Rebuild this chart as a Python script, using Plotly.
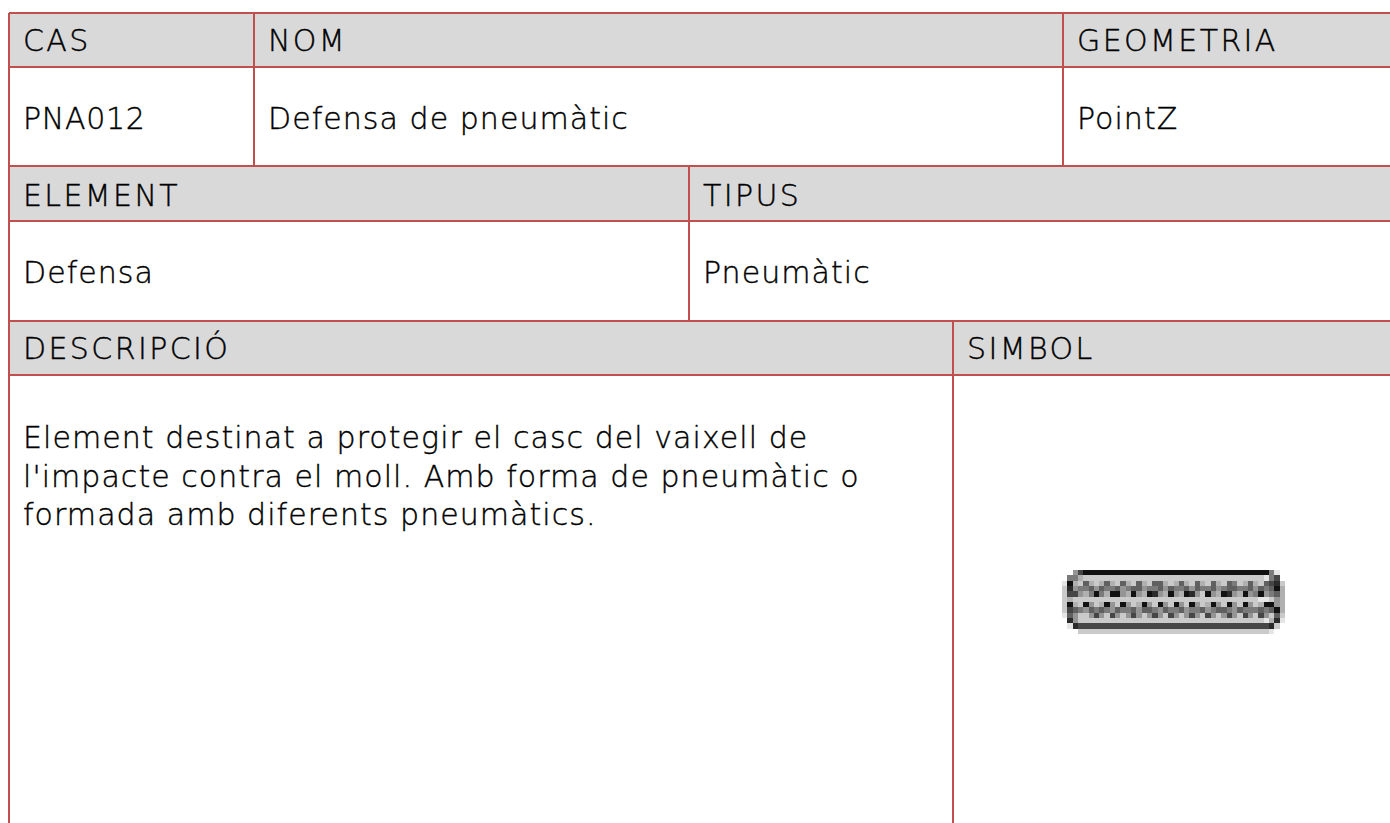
import plotly.graph_objects as go

BORDER = "#C0504D"
HEADER = "#D9D9D9"
FONT = "DejaVu Sans Light"
SIZE = 30

# header bands: x0, x1, y0, y1
header_bands = [(9, 1390, 13, 67), (9, 1390, 166, 221), (9, 1390, 321, 375)]
# horizontal rules: y
h_rules = [13, 67, 166, 221, 321, 375]
# vertical rules: x, y0, y1
v_rules = [(9, 13, 823), (254, 13, 166), (1063, 13, 166), (689, 166, 321), (953, 321, 823)]

texts = ["CAS", "NOM", "GEOMETRIA", "PNA012", "Defensa de pneumàtic", "PointZ",
         "ELEMENT", "TIPUS", "Defensa", "Pneumàtic", "DESCRIPCIÓ", "SIMBOL",
         "Element destinat a protegir el casc del vaixell de",
         "l'impacte contra el moll. Amb forma de pneumàtic o",
         "formada amb diferents pneumàtics."]
text_x = [23, 268, 1077, 23, 268, 1077, 23, 703, 23, 703, 23, 967, 23, 23, 23]
text_y = [43, 43, 43, 121, 121, 121, 198, 198, 275, 275, 351, 351, 440, 479, 517]

# symbol pixels, gray levels 0 (black) to 9 (white)
symbol_rows = [
    "995200000000000000000000000000000000000" + "489",
    "944677777777777777777777777777777777778" + "429",
    "806736763673673673367636736736734763673" + "217",
    "715443534435433544353443534435433443534" + "306",
    "722564046005605601560560157056015605" + "405" + "436",
    "767777777777777777777777777777777777788" + "756",
    "706705760570576057057057057605705705" + "760" + "056",
    "723453434534435334534435443543345344" + "434" + "306",
    "835775257257525752572575257257525725" + "725" + "737",
    "915777777777777777777777777777777777778" + "618",
    "981222222222222222222222222222222222222" + "179",
    "999777777777777777777777777777777777777" + "899",
]
symbol_z = [[int(c) for c in row] for row in symbol_rows]
SYM_X0, SYM_Y0, SYM_D = 1062, 570, 5.31

line_x, line_y = [], []
for y in h_rules:
    line_x += [9, 1390, None]
    line_y += [y, y, None]
for x, y0, y1 in v_rules:
    line_x += [x, x, None]
    line_y += [y0, y1, None]

fig = go.Figure()
fig.add_trace(go.Heatmap(
    z=symbol_z, x0=SYM_X0 + SYM_D / 2, dx=SYM_D, y0=SYM_Y0 + 2.67, dy=5.33,
    zmin=0, zmax=9, showscale=False, hoverinfo="skip",
    colorscale=[[0, "#111111"], [1, "#ffffff"]],
))
fig.add_trace(go.Scatter(x=line_x, y=line_y, mode="lines",
                         line=dict(color=BORDER, width=2), hoverinfo="skip"))
fig.add_trace(go.Scatter(x=text_x, y=text_y, text=texts, mode="text",
                         textposition="middle right", hoverinfo="skip",
                         textfont=dict(family=FONT, size=SIZE, color="#000000")))

fig.update_layout(
    width=1390, height=823, margin=dict(l=0, r=0, t=0, b=0),
    paper_bgcolor="white", plot_bgcolor="white", showlegend=False,
    xaxis=dict(range=[0, 1390], visible=False, fixedrange=True),
    yaxis=dict(range=[823, 0], visible=False, fixedrange=True),
    shapes=[dict(type="rect", xref="x", yref="y", x0=a, x1=b, y0=c, y1=d,
                 fillcolor=HEADER, line_width=0, layer="below")
            for a, b, c, d in header_bands],
)
post = """
document.body.style.margin='0';document.body.style.overflow='hidden';
document.querySelectorAll('.textpoint text').forEach(function(t){
  var s=t.textContent;
  var caps=(s===s.toUpperCase())&&!/[0-9]/.test(s);
  t.style.letterSpacing=caps?'2.4px':(/[0-9]/.test(s)?'0.7px':'1.05px');
  t.style.stroke='#000000';t.style.strokeWidth='0.4px';
});
"""
fig.write_html("out.html", config=dict(displayModeBar=False), post_script=post)
